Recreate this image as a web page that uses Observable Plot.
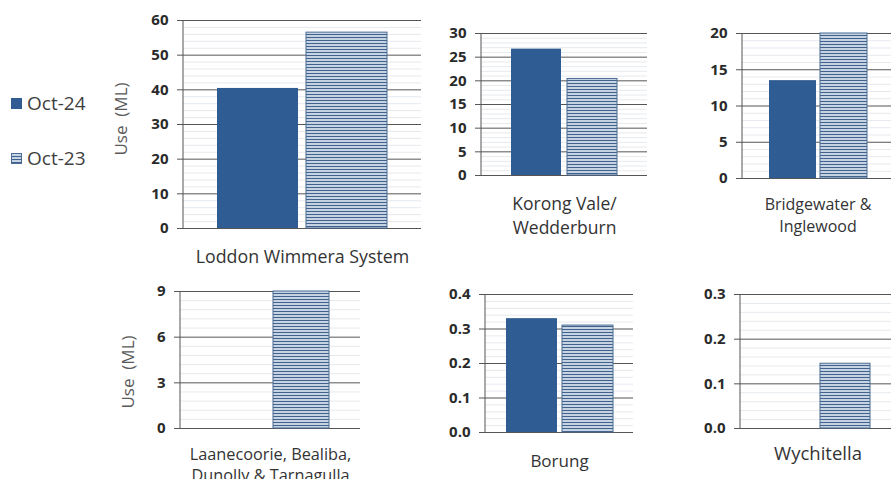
<!DOCTYPE html>
<html><head><meta charset="utf-8">
<script src="https://cdn.jsdelivr.net/npm/d3@7"></script>
<script src="https://cdn.jsdelivr.net/npm/@observablehq/plot@0.6"></script>
<style>
body{margin:0;background:#fff;}
#chart{position:relative;width:891px;height:479px;overflow:hidden;font-family:"Open Sans",sans-serif;background:#fff;}
.panel{position:absolute;}
.ytitle{position:absolute;transform:translate(-50%,-50%) rotate(-90deg);white-space:pre;font-size:17px;color:#595959;}
.leg{position:absolute;font-size:19px;color:#404040;display:flex;align-items:center;white-space:nowrap;}
.sw{width:11px;height:11px;margin-right:5px;box-sizing:border-box;}
</style></head><body>
<svg width="0" height="0" style="position:absolute"><defs>
<pattern id="stripes" patternUnits="userSpaceOnUse" width="6" height="3"><rect width="6" height="3" fill="#c6d3e2"/><rect width="6" height="1" fill="#41628c"/></pattern>
</defs></svg>
<div id="chart"></div>
<script>
// ---- data ----
const series = ["Oct-24", "Oct-23"];
const categories = ["Loddon Wimmera System", "Korong Vale/\nWedderburn", "Bridgewater &\nInglewood", "Laanecoorie, Bealiba,\nDunolly & Tarnagulla", "Borung", "Wychitella"];
const oct24 = [40.4, 26.7, 13.5, 0, 0.33, 0];
const oct23 = [56.5, 20.4, 20, 9, 0.31, 0.145];
const yMax = [60, 30, 20, 9, 0.4, 0.3];
const yStep = [10, 5, 5, 3, 0.1, 0.1];
const yTitle = "Use  (ML)";

// ---- layout (frame edges in page pixels) ----
const layout = [
  {left:183, right:421, top:20, bottom:228, pi:0.09, po:0.374, dy:27, fs:17.8, lh:24},
  {left:481, right:647, top:33, bottom:175, pi:0.1, po:0.532, dy:39, fs:17.5, lh:24},
  {left:742, right:893, top:33, bottom:178, pi:0.08, po:0.506, dy:35, fs:16, lh:22},
  {left:180, right:360, top:291, bottom:428, pi:0.1, po:0.5, dy:35, fs:16.3, lh:21},
  {left:485, right:633, top:294, bottom:432, pi:0.09, po:0.366, dy:27, fs:17, lh:24},
  {left:740, right:895, top:294, bottom:428, pi:0.09, po:0.43, dy:24, fs:18.5, lh:24}
];

const chart = document.getElementById("chart");
const ml = 60, mr = 2, mt = 10, mb = 60;

categories.forEach((cat, i) => {
  const L = layout[i];
  const data = series.map((s, j) => ({series: s, value: j === 0 ? oct24[i] : oct23[i]}));
  const step = yStep[i];
  const major = d3.range(0, Math.round(yMax[i] / step) + 1).map(k => +(k * step).toFixed(4));
  const minor = d3.range(0, Math.round(yMax[i] / step) * 5 + 1).filter(k => k % 5 !== 0).map(k => k * step / 5);
  const fmt = step < 1 ? d3.format(".1f") : d3.format("d");
  const w = L.right - L.left, h = L.bottom - L.top;
  const p = Plot.plot({
    width: ml + w + mr, height: mt + h + mb,
    marginLeft: ml, marginRight: mr, marginTop: mt, marginBottom: mb,
    style: {background: "transparent", maxWidth: "none", overflow: "visible", fontFamily: "Open Sans"},
    x: {domain: series, paddingInner: L.pi, paddingOuter: L.po, axis: null},
    y: {domain: [0, yMax[i]], axis: null},
    marks: [
      Plot.ruleY(minor, {stroke: "#e6e9ee"}),
      Plot.ruleY(major, {stroke: "#555"}),
      Plot.axisY(major, {tickSize: 6, tickPadding: 9, tickFormat: fmt, fontSize: 15, fontWeight: "bold", stroke: "#555", fill: "#2a2a2a", label: null}),
      (index, scales, values, dims) => {
        const ln = d3.create("svg:line")
          .attr("x1", dims.marginLeft).attr("x2", dims.marginLeft)
          .attr("y1", dims.marginTop).attr("y2", dims.height - dims.marginBottom)
          .attr("stroke", "#555");
        return ln.node();
      },
      Plot.barY(data.filter(d => d.series === "Oct-24"), {x: "series", y: "value", fill: "#2f5c92"}),
      Plot.barY(data.filter(d => d.series === "Oct-23"), {x: "series", y: "value", fill: "url(#stripes)", stroke: "#4a6b92", strokeWidth: 1}),
      Plot.text([cat], {text: d => d, frameAnchor: "bottom", dy: L.dy, lineAnchor: "middle", fontSize: L.fs, lineHeight: L.lh / L.fs, fill: "#333"})
    ]
  });
  p.classList.add("panel");
  p.style.left = (L.left - ml) + "px";
  p.style.top = (L.top - mt) + "px";
  chart.appendChild(p);
});

// y titles
[[120, 119], [127, 372]].forEach(([x, y]) => {
  const d = document.createElement("div");
  d.className = "ytitle";
  d.textContent = yTitle;
  d.style.left = x + "px"; d.style.top = y + "px";
  chart.appendChild(d);
});

// legend
series.forEach((s, j) => {
  const d = document.createElement("div");
  d.className = "leg";
  d.style.left = "11px";
  d.style.top = (j === 0 ? 90 : 145) + "px";
  const sw = j === 0
    ? `<div class="sw" style="background:#2f5c92"></div>`
    : `<svg class="sw" width="11" height="11" style="margin-right:5px"><rect x="0.5" y="0.5" width="10" height="10" fill="url(#stripes)" stroke="#4a6b92"/></svg>`;
  d.innerHTML = sw + `<span>${s}</span>`;
  chart.appendChild(d);
});
</script>
</body></html>
